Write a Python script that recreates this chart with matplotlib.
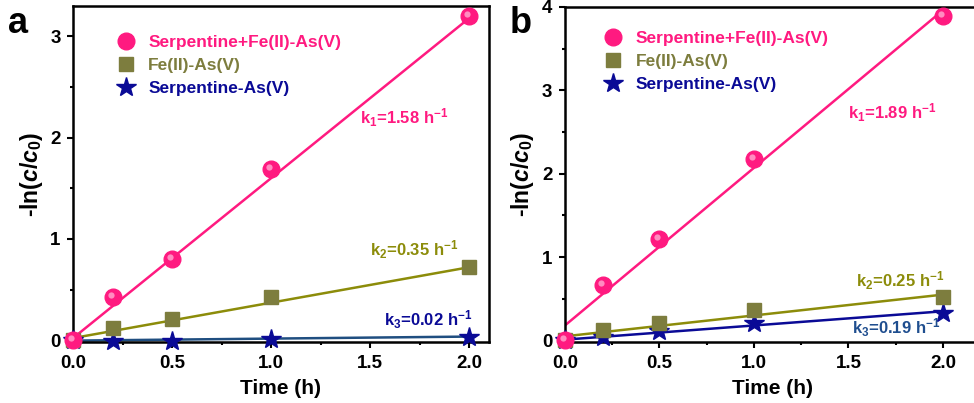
import matplotlib
matplotlib.use('Agg')
import matplotlib.pyplot as plt
import matplotlib.transforms as mtransforms
import numpy as np
from matplotlib.ticker import MultipleLocator
from matplotlib.lines import Line2D

plt.rcParams['font.family'] = ['Liberation Sans', 'DejaVu Sans']
plt.rcParams['font.weight'] = 'bold'
plt.rcParams['mathtext.fontset'] = 'custom'
plt.rcParams['mathtext.rm'] = 'Liberation Sans:bold'
plt.rcParams['mathtext.bf'] = 'Liberation Sans:bold'
plt.rcParams['mathtext.it'] = 'Liberation Sans:bold:italic'

# time points (h)
t = [0, 0.2, 0.5, 1.0, 2.0]

# panel a: -ln(c/c0)
a_pink = [0.0, 0.43, 0.80, 1.69, 3.20]
a_olive = [0.0, 0.12, 0.21, 0.43, 0.72]
a_blue = [0.0, -0.01, -0.01, 0.01, 0.03]
# fitted lines (slope, intercept)
a_fit = [(1.58, 0.02), (0.35, 0.02), (0.02, -0.005)]
a_klabels = ['k$_1$=1.58 h$^{-1}$', 'k$_2$=0.35 h$^{-1}$', 'k$_3$=0.02 h$^{-1}$']

# panel b
b_pink = [0.0, 0.66, 1.22, 2.18, 3.89]
b_olive = [0.0, 0.13, 0.21, 0.36, 0.52]
b_blue = [0.0, 0.04, 0.11, 0.21, 0.33]
b_fit = [(1.89, 0.18), (0.25, 0.05), (0.17, 0.01)]
b_klabels = ['k$_1$=1.89 h$^{-1}$', 'k$_2$=0.25 h$^{-1}$', 'k$_3$=0.19 h$^{-1}$']

labels = ['Serpentine+Fe(II)-As(V)', 'Fe(II)-As(V)', 'Serpentine-As(V)']

pink = '#FF1A80'
olive_line = '#8C8C0A'
olive_mk = '#7D7D3E'
navy = '#0A0A96'

fig = plt.figure(figsize=(9.74, 4.03), dpi=100)
ax1 = fig.add_axes([0.075, 0.151, 0.427, 0.834])
ax2 = fig.add_axes([0.580, 0.151, 0.427, 0.832])


def draw(ax, pinkv, olivev, bluev, fits, klabels, kpos, blue_line, k3col, ylim, xmax, legpos, lsp):
    tt = np.array([0, 2.0])
    ax.plot(tt, fits[0][0] * tt + fits[0][1], color=pink, lw=1.8, zorder=2)
    ax.plot(tt, fits[1][0] * tt + fits[1][1], color=olive_line, lw=1.8, zorder=2)
    ax.plot(tt, fits[2][0] * tt + fits[2][1], color=blue_line, lw=1.8, zorder=2)

    ax.plot(t, bluev, ls='none', marker='*', ms=15, color=navy, mec=navy, zorder=3, clip_on=False)
    ax.plot(t, olivev, ls='none', marker='s', ms=10, color=olive_mk, mec=olive_mk, zorder=4, clip_on=False)
    ax.plot(t, pinkv, ls='none', marker='o', ms=12, color=pink, mec=pink, zorder=5, clip_on=False)
    hl = mtransforms.offset_copy(ax.transData, fig=fig, x=-1.5, y=1.5, units='points')
    ax.plot(t, pinkv, ls='none', marker='o', ms=4.5, color='#FF8CC0', mec='none', zorder=6,
            transform=hl, clip_on=False)

    cols = [pink, olive_line, k3col]
    for lab, (x, y), c in zip(klabels, kpos, cols):
        ax.text(x, y, lab, color=c, fontsize=12, fontweight='bold', va='center', ha='left')

    handles = [
        Line2D([], [], ls='none', marker='o', ms=12, color=pink),
        Line2D([], [], ls='none', marker='s', ms=10, color=olive_mk),
        Line2D([], [], ls='none', marker='*', ms=15, color=navy),
    ]
    leg = ax.legend(handles, labels, loc='upper left', bbox_to_anchor=legpos, frameon=False,
                    fontsize=12.5, handletextpad=0.7, labelspacing=lsp, handlelength=1.2,
                    borderaxespad=0)
    for txt, c in zip(leg.get_texts(), [pink, olive_mk, navy]):
        txt.set_color(c)
        txt.set_fontweight('bold')

    ax.set_xlim(0, xmax)
    ax.set_ylim(*ylim)
    ax.xaxis.set_major_locator(MultipleLocator(0.5))
    ax.xaxis.set_minor_locator(MultipleLocator(0.25))
    ax.yaxis.set_major_locator(MultipleLocator(1))
    ax.yaxis.set_minor_locator(MultipleLocator(0.5))
    ax.xaxis.set_major_formatter(plt.FormatStrFormatter('%.1f'))
    ax.yaxis.set_major_formatter(plt.FormatStrFormatter('%d'))
    ax.tick_params(which='major', direction='out', length=4, width=1.5, labelsize=13.5, pad=5)
    ax.tick_params(which='minor', direction='out', length=2, width=1.5)
    for s in ax.spines.values():
        s.set_linewidth(1.8)
    ax.set_xlabel('Time (h)', fontsize=15, fontweight='bold', labelpad=5)
    ax.set_ylabel('-ln($\\mathit{c}$/$\\mathit{c_0}$)', fontsize=16.5, fontweight='bold', labelpad=4)


draw(ax1, a_pink, a_olive, a_blue, a_fit, a_klabels,
     [(1.45, 2.2), (1.50, 0.89), (1.57, 0.20)], '#1F4E80', navy,
     (-0.02, 3.3), 2.1, (0.085, 0.935), 0.45)
draw(ax2, b_pink, b_olive, b_blue, b_fit, b_klabels,
     [(1.50, 2.73), (1.54, 0.72), (1.52, 0.15)], navy, '#1F4E8F',
     (-0.02, 4.0), 2.2, (0.075, 0.95), 0.45)

fig.text(0.008, 0.985, 'a', fontsize=26, fontweight='bold', va='top')
fig.text(0.523, 0.985, 'b', fontsize=26, fontweight='bold', va='top')

fig.savefig('out.png', dpi=100)
